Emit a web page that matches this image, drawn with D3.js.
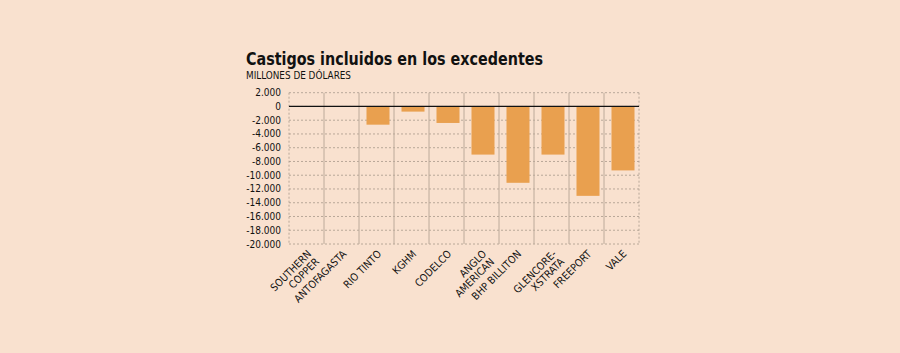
<!DOCTYPE html>
<html>
<head>
<meta charset="utf-8">
<script src="https://cdn.jsdelivr.net/npm/d3@7"></script>
<style>
  body { margin: 0; background: #f9e1cf; }
  svg { display: block; }
  text { font-family: "DejaVu Sans Condensed", "DejaVu Sans", sans-serif; fill: #111; }
</style>
</head>
<body>
<div id="chart"></div>
<script>
// companies (label lines) and write-downs, millions of dollars
var companies = [["SOUTHERN", "COPPER"], ["ANTOFAGASTA"], ["RIO TINTO"], ["KGHM"], ["CODELCO"],
  ["ANGLO", "AMERICAN"], ["BHP BILLITON"], ["GLENCORE-", "XSTRATA"], ["FREEPORT"], ["VALE"]];
var values = [0, 0, -2650, -750, -2400, -7000, -11100, -7000, -13000, -9300];
var yTicks = [2000, 0, -2000, -4000, -6000, -8000, -10000, -12000, -14000, -16000, -18000, -20000];

var width = 900, height = 353;
var plotLeft = 289, plotRight = 639, plotTop = 92.7, plotBottom = 244;

var svg = d3.select("#chart").append("svg")
  .attr("width", width)
  .attr("height", height);

svg.append("text")
  .attr("x", 246).attr("y", 64.5)
  .attr("textLength", 297).attr("lengthAdjust", "spacingAndGlyphs")
  .style("font-size", "17px").style("font-weight", "bold")
  .text("Castigos incluidos en los excedentes");

svg.append("text")
  .attr("x", 246).attr("y", 78.5)
  .attr("textLength", 105).attr("lengthAdjust", "spacingAndGlyphs")
  .style("font-size", "10px")
  .text("MILLONES DE DÓLARES");

var x = d3.scaleBand()
  .domain(d3.range(companies.length))
  .range([plotLeft, plotRight])
  .paddingInner(0).paddingOuter(0);

var y = d3.scaleLinear()
  .domain([2000, -20000])
  .range([plotTop, plotBottom]);

// horizontal dashed grid
svg.append("g").selectAll("line")
  .data(yTicks)
  .enter().append("line")
    .attr("x1", plotLeft).attr("x2", plotRight)
    .attr("y1", function(d) { return y(d); })
    .attr("y2", function(d) { return y(d); })
    .attr("stroke", "#a8998c").attr("stroke-width", 0.8)
    .attr("stroke-dasharray", "2,2");

// vertical separators
svg.append("g").selectAll("line")
  .data(d3.range(1, companies.length))
  .enter().append("line")
    .attr("x1", function(d) { return x(d); })
    .attr("x2", function(d) { return x(d); })
    .attr("y1", plotTop).attr("y2", plotBottom)
    .attr("stroke", "#bcaa9a").attr("stroke-width", 1);

// dashed frame sides
[plotLeft, plotRight].forEach(function(px) {
  svg.append("line")
    .attr("x1", px).attr("x2", px).attr("y1", plotTop).attr("y2", plotBottom)
    .attr("stroke", "#a8998c").attr("stroke-width", 0.8)
    .attr("stroke-dasharray", "2,2");
});

// bars
var barW = 23;
svg.append("g").selectAll("rect")
  .data(values)
  .enter().append("rect")
    .attr("x", function(d, i) { return x(i) + x.bandwidth() / 2 - barW / 2 + 1.5; })
    .attr("y", function(d) { return y(Math.max(0, d)); })
    .attr("width", barW)
    .attr("height", function(d) { return Math.abs(y(d) - y(0)); })
    .attr("fill", "#e9a04f");

// zero line
svg.append("line")
  .attr("x1", plotLeft).attr("x2", plotRight)
  .attr("y1", y(0)).attr("y2", y(0))
  .attr("stroke", "#111").attr("stroke-width", 1.3);

// y axis labels
var fmt = function(d) { return d3.format(",")(d).replace(/,/g, ".").replace("−", "-"); };
svg.append("g").selectAll("text")
  .data(yTicks)
  .enter().append("text")
    .attr("x", 281)
    .attr("y", function(d) { return y(d); })
    .attr("dy", "0.35em")
    .attr("text-anchor", "end")
    .style("font-size", "10px")
    .text(fmt);

// x labels, rotated
var lab = svg.append("g").selectAll("text")
  .data(companies)
  .enter().append("text")
    .attr("text-anchor", "end")
    .style("font-size", "10.5px")
    .attr("transform", function(d, i) {
      return "translate(" + (x(i) + x.bandwidth() / 2 + 3) + "," + 252 + ") rotate(-45)";
    });

lab.selectAll("tspan")
  .data(function(d) { return d; })
  .enter().append("tspan")
    .attr("x", 0)
    .attr("dy", function(d, i) { return i == 0 ? "0.35em" : "1.05em"; })
    .text(function(d) { return d; });
</script>
</body>
</html>
